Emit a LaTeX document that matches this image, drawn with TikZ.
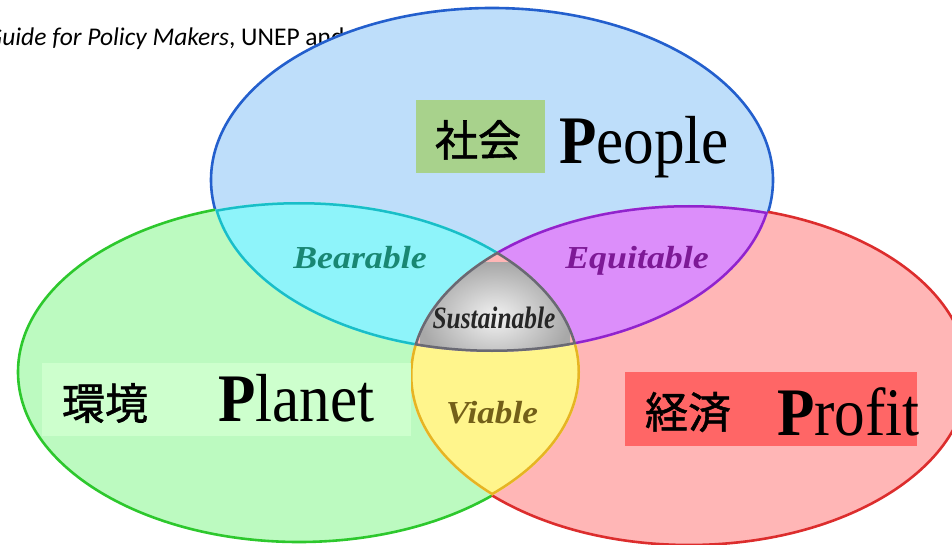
\documentclass[tikz,border=0pt]{standalone}
\usepackage{fontspec}
\setmainfont{Liberation Serif}
\newfontfamily\jpfont[FakeBold=1.2]{Noto Sans CJK JP}
\newfontfamily\notefont{Carlito}

\definecolor{peoplefill}{RGB}{190,222,250}
\definecolor{peopleline}{RGB}{35,95,205}
\definecolor{planetfill}{RGB}{188,250,192}
\definecolor{planetline}{RGB}{45,200,45}
\definecolor{profitfill}{RGB}{255,182,182}
\definecolor{profitline}{RGB}{220,45,45}
\definecolor{bearfill}{RGB}{142,244,250}
\definecolor{bearline}{RGB}{25,190,200}
\definecolor{equifill}{RGB}{220,142,250}
\definecolor{equiline}{RGB}{145,35,205}
\definecolor{viafill}{RGB}{255,245,140}
\definecolor{vialine}{RGB}{230,180,35}
\definecolor{sustlight}{RGB}{242,242,242}
\definecolor{sustdark}{RGB}{168,168,168}
\definecolor{sustline}{RGB}{105,105,115}
\definecolor{shakaibox}{RGB}{168,210,140}
\definecolor{kankyobox}{RGB}{205,255,205}
\definecolor{keizaibox}{RGB}{255,102,102}
\definecolor{beartext}{RGB}{25,135,115}
\definecolor{equitext}{RGB}{125,25,150}
\definecolor{viatext}{RGB}{115,95,25}

\tikzset{
	rim/.style={line width=2.6pt},
	innerrim/.style={line width=5pt},
	labelbox/.style={inner sep=0pt, outer sep=0pt},
	jptext/.style={inner sep=0pt, font=\jpfont\fontsize{43pt}{48pt}\selectfont},
	bigtext/.style={inner sep=0pt, anchor=base west, font=\fontsize{68pt}{72pt}\selectfont},
	areatext/.style={inner sep=0pt, anchor=base, font=\bfseries\itshape\fontsize{32pt}{36pt}\selectfont},
	notetext/.style={inner sep=0pt, anchor=base west, font=\notefont\fontsize{25.5pt}{29pt}\selectfont},
}

\begin{document}
\begin{tikzpicture}[x=1pt, y=-1pt]
	\useasboundingbox (0,0) rectangle (952,545);

	\def\peoplecircle{(492,180) ellipse [x radius=281, y radius=172]}
	\def\planetcircle{(299,372) ellipse [x radius=281, y radius=170]}
	\def\profitcircle{(689,375) ellipse [x radius=279, y radius=170]}
	\def\outside{(-60,-60) rectangle (1020,620)}

	% source line, partly hidden by the top circle
	\node[notetext] (source) at (-14,46) {\textit{Guide for Policy Makers}, UNEP and};

	% the three circles
	\fill[peoplefill] \peoplecircle;
	\fill[planetfill] \planetcircle;
	\fill[profitfill] \profitcircle;

	% outer rims, only where no other circle lies
	\begin{scope}[even odd rule]
		\clip \outside \planetcircle;
		\clip \outside \profitcircle;
		\draw[rim, peopleline] \peoplecircle;
	\end{scope}
	\begin{scope}[even odd rule]
		\clip \outside \peoplecircle;
		\clip \outside \profitcircle;
		\draw[rim, planetline] \planetcircle;
	\end{scope}
	\begin{scope}[even odd rule]
		\clip \outside \peoplecircle;
		\clip \outside \planetcircle;
		\draw[rim, profitline] \profitcircle;
	\end{scope}

	% two-circle areas
	\begin{scope}[even odd rule]
		\clip \peoplecircle;
		\clip \planetcircle;
		\clip \outside \profitcircle;
		\fill[bearfill] \outside;
		\draw[innerrim, bearline] \peoplecircle \planetcircle; % bearable
	\end{scope}
	\begin{scope}[even odd rule]
		\clip \peoplecircle;
		\clip \profitcircle;
		\clip \outside \planetcircle;
		\fill[equifill] \outside;
		\draw[innerrim, equiline] \peoplecircle \profitcircle; % equitable
	\end{scope}
	\begin{scope}[even odd rule]
		\clip \planetcircle;
		\clip \profitcircle;
		\clip \outside \peoplecircle;
		\fill[viafill] \outside;
		\draw[innerrim, vialine] \planetcircle \profitcircle; % viable
	\end{scope}

	% middle area
	\begin{scope}
		\clip \peoplecircle;
		\clip \planetcircle;
		\clip \profitcircle;
		\shade[inner color=sustlight, outer color=sustdark] (420,262) rectangle (570,372);
		\draw[innerrim, sustline] \peoplecircle \planetcircle \profitcircle; % sustainable
	\end{scope}

	% area words
	\node[areatext, text=beartext] (bearable) at (360,268) {\scalebox{1.12}[1]{Bearable}};
	\node[areatext, text=equitext] (equitable) at (637,269) {\scalebox{1.12}[1]{Equitable}};
	\node[areatext, text=black!85, font=\bfseries\itshape\fontsize{31pt}{34pt}\selectfont] (sustainable) at (494,328) {\scalebox{0.82}[1]{Sustainable}};
	\node[areatext, text=viatext] (viable) at (492,423) {\scalebox{1.1}[1]{Viable}};

	% people
	\node[labelbox, fill=shakaibox, minimum width=129pt, minimum height=73pt] (shakaibox) at (480.5,136.5) {};
	\node[jptext] (shakai) at (478,140) {社会};
	\node[bigtext] (people) at (559,164) {\scalebox{0.9}[1]{\textbf{P}eople}};

	% planet
	\node[labelbox, fill=kankyobox, minimum width=369pt, minimum height=73pt] (kankyobox) at (226.5,399.5) {};
	\node[jptext] (kankyo) at (105,403) {環境};
	\node[bigtext] (planet) at (218,421) {\scalebox{0.9}[1]{\textbf{P}lanet}};

	% profit
	\node[labelbox, fill=keizaibox, minimum width=292pt, minimum height=74pt] (keizaibox) at (771,409) {};
	\node[jptext] (keizai) at (688,412) {経済};
	\node[bigtext] (profit) at (777,435) {\scalebox{0.9}[1]{\textbf{P}rofit}};
\end{tikzpicture}
\end{document}
